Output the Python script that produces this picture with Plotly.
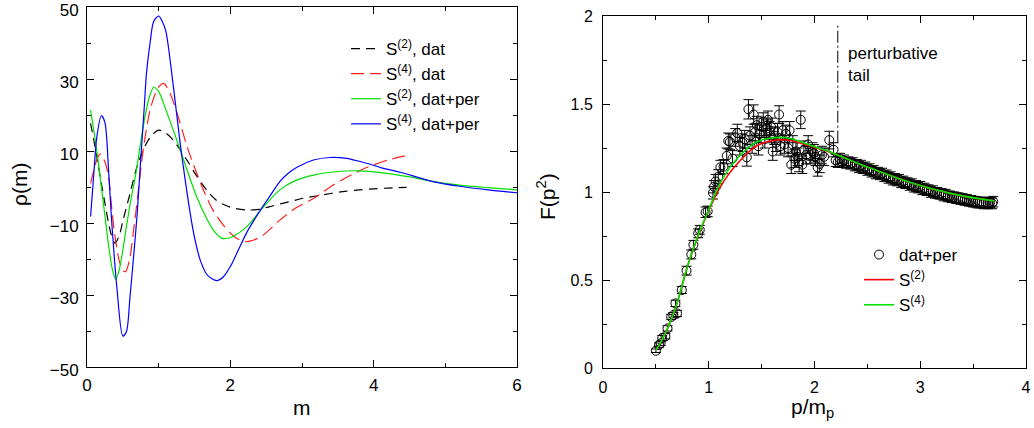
import plotly.graph_objects as go

# ---------------- Left panel: rho(m) ----------------
m_s2_dat = [0.05, 0.1, 0.15, 0.2, 0.25, 0.3, 0.35, 0.39, 0.45, 0.5, 0.6, 0.7, 0.8, 0.9, 1.0, 1.1, 1.2, 1.3, 1.4,
            1.5, 1.6, 1.7, 1.8, 1.9, 2.0, 2.1, 2.25, 2.4, 2.6, 2.8, 3.0, 3.2, 3.4, 3.6, 3.8, 4.0, 4.2, 4.46]
r_s2_dat = [17.7, 12.5, 7.0, 1.0, -4.5, -10.0, -14.0, -15.6, -13.5, -9.5, -1.8, 5.8, 11.0, 14.3, 15.8, 15.0, 13.1,
            10.3, 7.3, 4.0, 1.0, -1.6, -3.6, -4.8, -5.6, -6.1, -6.4, -6.2, -5.2, -4.2, -3.2, -2.5, -1.8, -1.2, -0.8,
            -0.5, -0.3, -0.1]

m_s4_dat = [0.05, 0.1, 0.15, 0.19, 0.25, 0.3, 0.35, 0.4, 0.45, 0.5, 0.54, 0.6, 0.65, 0.7, 0.75, 0.8, 0.88, 0.95,
            1.0, 1.07, 1.16, 1.3, 1.4, 1.53, 1.65, 1.76, 1.9, 2.0, 2.1, 2.2, 2.3, 2.45, 2.69, 2.9, 3.16, 3.44, 3.7,
            3.9, 4.2, 4.5]
r_s4_dat = [1.0, 5.0, 8.3, 9.2, 7.0, 3.0, -7.0, -15.0, -20.5, -23.2, -23.5, -19.5, -12.0, -4.0, 5.0, 12.5, 21.4,
            25.8, 27.8, 28.8, 26.0, 17.7, 11.0, 3.9, -2.0, -6.5, -10.5, -12.8, -14.4, -15.2, -14.9, -13.5, -9.2,
            -6.0, -3.2, 0.6, 3.5, 5.4, 7.5, 8.9]

m_s2_per = [0.05, 0.1, 0.15, 0.2, 0.25, 0.3, 0.35, 0.4, 0.45, 0.5, 0.55, 0.6, 0.69, 0.75, 0.81, 0.87, 0.93, 1.0,
            1.1, 1.2, 1.3, 1.4, 1.53, 1.65, 1.76, 1.88, 1.95, 2.05, 2.23, 2.44, 2.69, 2.9, 3.16, 3.5, 3.79, 4.1,
            4.5, 4.83, 5.2, 5.6, 6.0]
r_s2_per = [21.4, 15.0, 8.0, 0.0, -8.0, -16.0, -22.5, -25.7, -23.0, -17.5, -11.0, -5.0, 4.7, 12.5, 19.6, 25.0,
            27.7, 26.5, 21.5, 16.0, 10.3, 4.5, -2.7, -8.0, -11.9, -14.2, -14.3, -13.6, -11.0, -6.1, -0.8, 1.7,
            3.3, 4.3, 4.5, 4.0, 2.8, 1.5, 0.5, -0.2, -0.8]

m_s4_per = [0.05, 0.1, 0.135, 0.2, 0.25, 0.3, 0.34, 0.42, 0.5, 0.55, 0.6, 0.65, 0.7, 0.74, 0.8, 0.83, 0.88, 0.93,
            1.0, 1.05, 1.1, 1.2, 1.3, 1.37, 1.44, 1.5, 1.58, 1.68, 1.81, 1.9, 2.0, 2.1, 2.23, 2.35, 2.44, 2.55,
            2.69, 2.8, 2.93, 3.16, 3.39, 3.6, 3.9, 4.1, 4.37, 4.83, 5.2, 5.6, 6.0]
r_s4_per = [-8.2, 5.0, 13.6, 19.8, 17.9, 5.0, -8.2, -28.6, -41.4, -40.2, -30.5, -19.4, -7.5, 4.7, 22.5, 31.6, 40.0,
            46.0, 47.5, 46.0, 43.3, 28.8, 12.1, 2.0, -7.3, -14.0, -20.3, -24.5, -26.0, -25.0, -22.1, -18.0, -12.6,
            -8.6, -5.8, -2.6, 1.5, 3.7, 5.5, 7.5, 8.2, 8.0, 6.6, 5.4, 4.1, 1.5, 0.2, -0.8, -1.6]

left_xticks = [0, 2, 4, 6]
left_xminor = [1, 3, 5]
left_yticks = [-50, -30, -10, 10, 30, 50]
left_yminor = [-40, -20, 0, 20, 40]

# ---------------- Right panel: F(p^2) ----------------
p_fit = [0.5, 0.6, 0.7, 0.8, 0.9, 1.0, 1.1, 1.2, 1.3, 1.4, 1.5, 1.6, 1.7, 1.8, 1.9, 2.0, 2.1, 2.2, 2.4, 2.6, 2.8,
         3.0, 3.2, 3.4, 3.6, 3.7]
F_s2 = [0.10, 0.21, 0.37, 0.58, 0.75, 0.895, 1.02, 1.11, 1.18, 1.24, 1.275, 1.292, 1.297, 1.29, 1.272, 1.255,
        1.236, 1.215, 1.165, 1.12, 1.075, 1.037, 1.005, 0.978, 0.958, 0.95]
F_s4 = [0.10, 0.21, 0.37, 0.58, 0.755, 0.90, 1.04, 1.14, 1.21, 1.265, 1.295, 1.308, 1.31, 1.30, 1.278, 1.258,
        1.238, 1.215, 1.165, 1.12, 1.075, 1.037, 1.005, 0.978, 0.958, 0.95]

p_dat = [0.50, 0.53, 0.545, 0.56, 0.59, 0.61, 0.645, 0.665, 0.685, 0.70, 0.745, 0.79, 0.835, 0.855, 0.90, 0.915,
         0.97, 0.99, 1.04, 1.05, 1.065, 1.09, 1.11, 1.14, 1.17, 1.185, 1.20, 1.225, 1.25, 1.27, 1.295, 1.32, 1.34,
         1.36, 1.375, 1.39, 1.41, 1.425, 1.44, 1.455, 1.47, 1.48, 1.50, 1.515, 1.53, 1.545, 1.56, 1.575, 1.59,
         1.605, 1.62, 1.635, 1.65, 1.665, 1.68, 1.70, 1.715, 1.73, 1.75, 1.765, 1.78, 1.795, 1.81, 1.825, 1.84,
         1.855, 1.87, 1.885, 1.90, 1.92, 1.94, 1.96, 1.98, 1.995, 2.01, 2.03, 2.05, 2.07, 2.09, 2.14, 2.18, 2.20,
         2.22, 2.24, 2.26, 2.28, 2.30, 2.32, 2.34, 2.36, 2.38, 2.40, 2.42, 2.44, 2.46, 2.48, 2.50, 2.52, 2.54,
         2.56, 2.58, 2.60, 2.62, 2.64, 2.66, 2.68, 2.70, 2.72, 2.74, 2.76, 2.78, 2.80, 2.82, 2.84, 2.86, 2.88,
         2.90, 2.92, 2.94, 2.96, 2.98, 3.00, 3.02, 3.04, 3.06, 3.08, 3.10, 3.12, 3.14, 3.16, 3.18, 3.20, 3.22,
         3.24, 3.26, 3.28, 3.30, 3.32, 3.34, 3.36, 3.38, 3.40, 3.42, 3.44, 3.46, 3.48, 3.50, 3.52, 3.54, 3.56,
         3.58, 3.60, 3.62, 3.64, 3.66, 3.68, 3.69]
F_dat = [0.098, 0.13, 0.14, 0.17, 0.18, 0.225, 0.29, 0.30, 0.367, 0.31, 0.443, 0.553, 0.645, 0.70, 0.765, 0.785,
         0.885, 0.89, 0.995, 1.03, 1.06, 1.087, 1.14, 1.144, 1.205, 1.29, 1.285, 1.19, 1.31, 1.335, 1.26, 1.28,
         1.30, 1.197, 1.47, 1.32, 1.27, 1.44, 1.34, 1.38, 1.26, 1.33, 1.37, 1.40, 1.30, 1.36, 1.41, 1.35, 1.37,
         1.23, 1.32, 1.28, 1.34, 1.44, 1.26, 1.35, 1.27, 1.33, 1.25, 1.35, 1.155, 1.27, 1.19, 1.23, 1.20, 1.165,
         1.41, 1.155, 1.24, 1.21, 1.27, 1.21, 1.23, 1.22, 1.20, 1.14, 1.16, 1.21, 1.20, 1.295, 1.24, 1.18,
         1.17, 1.19, 1.17, 1.18, 1.165, 1.17, 1.16, 1.165, 1.15, 1.155, 1.14, 1.15, 1.135, 1.14, 1.125, 1.13,
         1.115, 1.12, 1.105, 1.11, 1.10, 1.105, 1.09, 1.095, 1.08, 1.085, 1.07, 1.075, 1.065, 1.07, 1.055, 1.06,
         1.05, 1.05, 1.04, 1.045, 1.03, 1.035, 1.025, 1.03, 1.015, 1.02, 1.01, 1.01, 1.00, 1.005, 0.995, 0.995,
         0.99, 0.99, 0.98, 0.985, 0.975, 0.975, 0.97, 0.97, 0.965, 0.965, 0.96, 0.96, 0.955, 0.955, 0.95, 0.95,
         0.945, 0.945, 0.94, 0.94, 0.94, 0.935, 0.94, 0.935, 0.94, 0.935, 0.945]
err_dat = [0.010, 0.012, 0.012, 0.015, 0.015, 0.015, 0.015, 0.015, 0.018, 0.018, 0.020, 0.025, 0.025, 0.025,
           0.025, 0.025, 0.030, 0.030, 0.035, 0.035, 0.040, 0.040, 0.040, 0.040, 0.045, 0.045, 0.045, 0.045,
           0.050, 0.050, 0.050, 0.050, 0.050, 0.050, 0.055, 0.050, 0.050, 0.055, 0.050, 0.050, 0.050, 0.050,
           0.050, 0.050, 0.050, 0.050, 0.050, 0.050, 0.050, 0.050, 0.050, 0.050, 0.050, 0.050, 0.050, 0.050,
           0.050, 0.050, 0.050, 0.050, 0.050, 0.050, 0.050, 0.050, 0.050, 0.050, 0.050, 0.050, 0.050, 0.050,
           0.050, 0.050, 0.050, 0.050, 0.050, 0.050, 0.050, 0.050, 0.050, 0.050, 0.040, 0.035] + [0.03] * 75

right_xticks = [0, 1, 2, 3, 4]
right_xminor = [0.5, 1.5, 2.5, 3.5]
right_yticks = [0, 0.5, 1, 1.5, 2]
right_yticklabels = ["0", "0.5", "1", "1.5", "2"]
right_yminor = [0.25, 0.75, 1.25, 1.75]

tail_start = 2.22
tail_line_y = [1.28, 1.96]
tail_label = "perturbative<br>tail"
tail_label_pos = (2.30, 1.85)

FONT = "Liberation Sans, Arial, sans-serif"

fig = go.Figure()

left_series = [
    (m_s2_dat, r_s2_dat, "S<sup>(2)</sup>, dat", "black", "9px,6px"),
    (m_s4_dat, r_s4_dat, "S<sup>(4)</sup>, dat", "#ff2020", "13px,6px"),
    (m_s2_per, r_s2_per, "S<sup>(2)</sup>, dat+per", "#00e000", "solid"),
    (m_s4_per, r_s4_per, "S<sup>(4)</sup>, dat+per", "#0000ff", "solid"),
]
for xs, ys, name, col, dash in left_series:
    fig.add_trace(go.Scatter(x=xs, y=ys, mode="lines", name=name, xaxis="x", yaxis="y",
                             line=dict(color=col, width=1.2, dash=dash, shape="spline", smoothing=0.8),
                             legend="legend"))

fig.add_trace(go.Scatter(x=p_dat, y=F_dat, mode="markers", name="dat+per", xaxis="x2", yaxis="y2",
                         marker=dict(symbol="circle-open", size=9, color="black", line=dict(width=1)),
                         error_y=dict(type="data", array=err_dat, color="black", thickness=1, width=5),
                         legend="legend2"))
fig.add_trace(go.Scatter(x=p_fit, y=F_s2, mode="lines", name="S<sup>(2)</sup>", xaxis="x2", yaxis="y2",
                         line=dict(color="#ff0000", width=1.6, shape="spline"), legend="legend2"))
fig.add_trace(go.Scatter(x=p_fit, y=F_s4, mode="lines", name="S<sup>(4)</sup>", xaxis="x2", yaxis="y2",
                         line=dict(color="#00e000", width=1.6, shape="spline"), legend="legend2"))

fig.add_trace(go.Scatter(x=[tail_start, tail_start], y=tail_line_y, mode="lines", xaxis="x2", yaxis="y2",
                         line=dict(color="black", width=1, dash="12px,3px,2px,3px"), showlegend=False,
                         hoverinfo="skip"))

def axis_common(size):
    return dict(showline=True, linecolor="black", linewidth=1, mirror="allticks", ticks="inside",
                ticklen=7, tickwidth=1, tickcolor="black", showgrid=False, zeroline=False, automargin=False,
                ticklabeloverflow="allow", tickfont=dict(family=FONT, size=size, color="black"))

def minor(vals):
    return dict(ticks="inside", ticklen=4, tickcolor="black", tickwidth=1, showgrid=False, tickvals=vals)

W, H = 1034, 428
def px_x(a, b):
    return [a / W, b / W]
def px_y(top, bottom):
    return [1 - bottom / H, 1 - top / H]

title_font = dict(family=FONT, size=21, color="black")
titles = [
    dict(text="m", x=302, y=407, angle=0),
    dict(text="ρ(m)", x=20, y=185, angle=-90),
    dict(text="p/m<sub>p</sub>", x=812, y=408, angle=0),
    dict(text="F(p<sup>2</sup>)", x=546, y=197, angle=-90),
]
annotations = [dict(x=t["x"] / W, y=1 - t["y"] / H, xref="paper", yref="paper", text=t["text"],
                    textangle=t["angle"], showarrow=False, xanchor="center", yanchor="middle",
                    font=title_font) for t in titles]
annotations.append(dict(x=tail_label_pos[0], y=tail_label_pos[1], xref="x2", yref="y2", text=tail_label,
                        showarrow=False, xanchor="left", yanchor="top", align="left",
                        font=dict(family=FONT, size=17, color="black")))

fig.update_layout(
    width=W, height=H, margin=dict(l=0, r=0, t=0, b=0, autoexpand=False),
    paper_bgcolor="white", plot_bgcolor="white",
    font=dict(family=FONT, color="black"),
    xaxis=dict(axis_common(17), domain=px_x(87, 517), range=[0, 6], anchor="y", tickvals=left_xticks,
               minor=minor(left_xminor), ticklabelstandoff=3),
    yaxis=dict(axis_common(17), domain=px_y(7, 367), range=[-50, 50], anchor="x", tickvals=left_yticks,
               minor=minor(left_yminor), ticklabelstandoff=4, ticklabelshift=3),
    xaxis2=dict(axis_common(16), domain=px_x(603, 1026), range=[0, 4], anchor="y2", tickvals=right_xticks,
                minor=minor(right_xminor), ticklabelstandoff=5),
    yaxis2=dict(axis_common(16), domain=px_y(16, 368), range=[0, 2], anchor="x2", tickvals=right_yticks,
                ticktext=right_yticklabels, minor=minor(right_yminor), ticklabelstandoff=6),
    legend=dict(x=346 / W, y=1 - 31 / H, xanchor="left", yanchor="top", bgcolor="rgba(0,0,0,0)",
                font=dict(family=FONT, size=17, color="black"), tracegroupgap=0, itemwidth=30),
    legend2=dict(x=859 / W, y=1 - 237 / H, xanchor="left", yanchor="top", bgcolor="rgba(0,0,0,0)",
                 font=dict(family=FONT, size=17, color="black"), tracegroupgap=0, itemwidth=30),
    annotations=annotations,
)

fig.write_html("out.html", config={"displayModeBar": False},
               post_script="document.body.style.margin='0';document.body.style.overflow='hidden';")
